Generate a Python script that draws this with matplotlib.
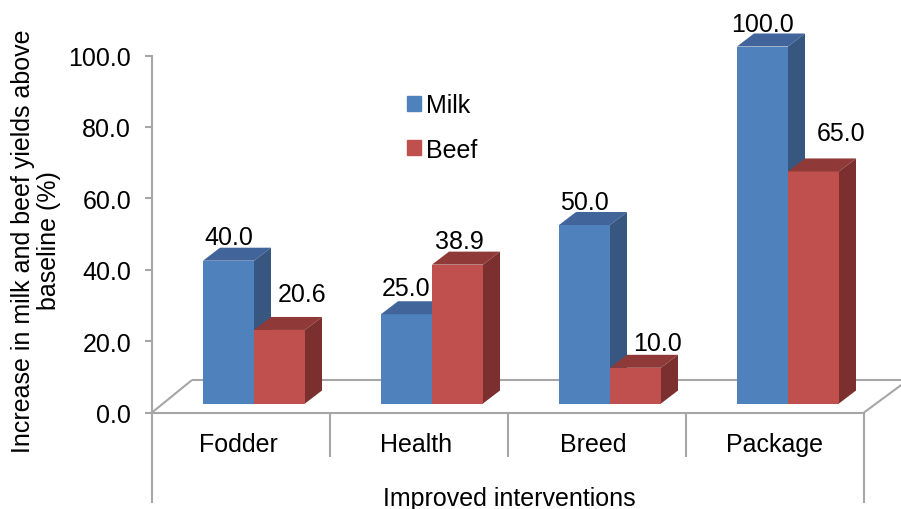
import matplotlib
matplotlib.use('Agg')
import matplotlib.pyplot as plt
from matplotlib.patches import Patch, Polygon

categories = ['Fodder', 'Health', 'Breed', 'Package']
milk = [40.0, 25.0, 50.0, 100.0]
beef = [20.6, 38.9, 10.0, 65.0]
yticks = [0, 20, 40, 60, 80, 100]

# label nudges in pixels from the centre of each bar's top edge
milk_nudge = [(0, 24), (0, 26), (0, 23), (0, 23)]
beef_nudge = [(23, 36), (2, 24), (22, 25), (28, 38)]
# category label shift in pixels
cat_nudge = [-3, -3, -4, 0]

W, H = 901, 510
X0, X1 = 152, 864
Y0, PX_PER_UNIT = 413.5, 3.57
CAT_W = (X1 - X0) / 4

BLUE = ('#4f81bd', '#41659a', '#375680')
RED = ('#c0504d', '#8f3a38', '#7b2f2e')
GREY = '#a6a6a6'

plt.rcParams['font.family'] = ['Liberation Sans', 'DejaVu Sans']
plt.rcParams['font.size'] = 18

fig = plt.figure(figsize=(W / 100, H / 100), dpi=100)
ax = fig.add_axes([X0 / W, (H - Y0) / H, (X1 - X0) / W, 100 * PX_PER_UNIT / H])
ax.set_xlim(0, 4)
ax.set_ylim(0, 100)

# pixel helpers for the fake 3d depth
def dx(px):
    return px / CAT_W

def dy(px):
    return px / PX_PER_UNIT

BAR_W = dx(51)
BASE = dy(9)
DEPTH_X, DEPTH_Y = dx(17), dy(13)

def bar3d(x, value, colors):
    front, top, side = colors
    h = BASE + value
    ax.bar(x, value, BAR_W, bottom=BASE, align='edge', color=front, clip_on=False, zorder=3)
    ax.add_patch(Polygon([(x, h), (x + DEPTH_X, h + DEPTH_Y), (x + BAR_W + DEPTH_X, h + DEPTH_Y), (x + BAR_W, h)],
                         color=top, lw=0, clip_on=False, zorder=3))
    ax.add_patch(Polygon([(x + BAR_W, BASE), (x + BAR_W + DEPTH_X, BASE + DEPTH_Y), (x + BAR_W + DEPTH_X, h + DEPTH_Y), (x + BAR_W, h)],
                         color=side, lw=0, clip_on=False, zorder=3))

def label(x, value, nudge):
    ax.annotate(f'{value:.1f}', (x + BAR_W / 2, BASE + value),
                xytext=(nudge[0] * 0.72, nudge[1] * 0.72), textcoords='offset points',
                ha='center', va='center', color='black', annotation_clip=False, zorder=5)

# floor of the box: back edge and the two receding sides
line_kw = dict(color=GREY, lw=1.5, clip_on=False, zorder=1, solid_capstyle='butt')
ax.plot([dx(40), dx(760)], [dy(32.5), dy(32.5)], **line_kw)
ax.plot([0, dx(40)], [0, dy(32.5)], **line_kw)
ax.plot([4, 4 + dx(44)], [0, dy(32.5)], **line_kw)

# category dividers under the floor, the outer ones run past the axis title
for i in range(5):
    low = dy(-90) if i in (0, 4) else dy(-44)
    ax.plot([i, i], [0, low], **line_kw)

for i in range(len(categories)):
    x_milk = i + dx(51)
    x_beef = x_milk + BAR_W
    bar3d(x_milk, milk[i], BLUE)
    bar3d(x_beef, beef[i], RED)
    label(x_milk, milk[i], milk_nudge[i])
    label(x_beef, beef[i], beef_nudge[i])

for side in ('top', 'right'):
    ax.spines[side].set_visible(False)
for side in ('left', 'bottom'):
    ax.spines[side].set_color(GREY)
    ax.spines[side].set_linewidth(1.5)

ax.set_yticks(yticks)
ax.set_yticklabels([f'{t:.1f}' for t in yticks])
ax.tick_params(axis='y', length=5, width=1.5, color=GREY, pad=10)
ax.set_xticks([i + 0.5 + dx(cat_nudge[i]) for i in range(len(categories))])
ax.set_xticklabels(categories)
ax.tick_params(axis='x', length=0, pad=14)

ax.set_xlabel('Improved interventions')
ax.xaxis.set_label_coords((509 - X0) / (X1 - X0), -(499 - Y0) / (100 * PX_PER_UNIT), transform=ax.transAxes)
ax.xaxis.label.set_va('center')
ax.set_ylabel('Increase in milk and beef yields above\nbaseline (%)', linespacing=1.1)
ax.yaxis.set_label_coords((36 - X0) / (X1 - X0), (Y0 - 241) / (100 * PX_PER_UNIT), transform=ax.transAxes)
ax.yaxis.label.set_va('center')

handles = [Patch(color=BLUE[0], label='Milk'), Patch(color=RED[0], label='Beef')]
ax.legend(handles=handles, loc='center left', bbox_to_anchor=((407 - X0) / (X1 - X0), (Y0 - 128.5) / (100 * PX_PER_UNIT)),
          frameon=False, handlelength=0.55, handleheight=0.55, handletextpad=0.22, labelspacing=0.82, borderpad=0, borderaxespad=0)

fig.savefig('out.png', dpi=100)
